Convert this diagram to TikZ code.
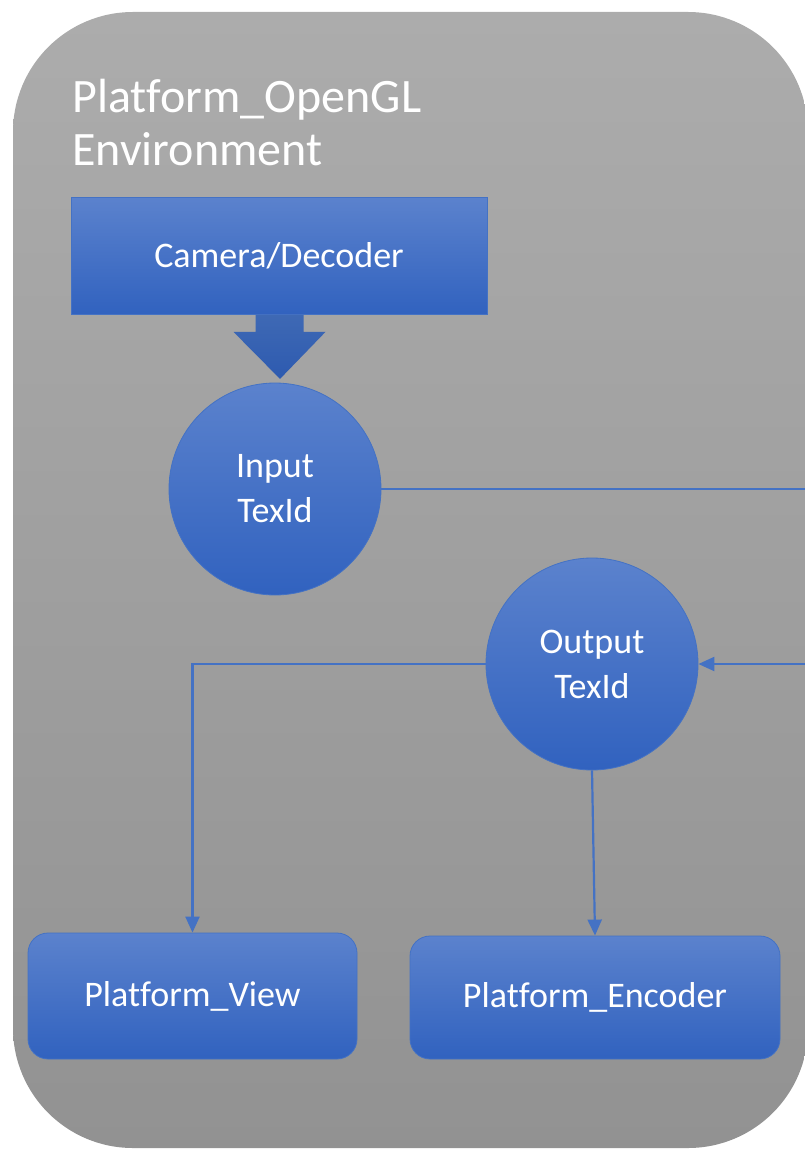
\documentclass[tikz,border=0pt]{standalone}
\usepackage{fontspec}
\setmainfont{Carlito}[Ligatures=NoCommon]
\usetikzlibrary{calc}
\usetikzlibrary{arrows.meta}
\definecolor{topblue}{HTML}{5B82CD}
\definecolor{botblue}{HTML}{3162BF}
\definecolor{edgeblue}{HTML}{4472C4}
\definecolor{topgray}{HTML}{ACACAC}
\definecolor{botgray}{HTML}{929292}

\begin{document}
\begin{tikzpicture}[x=0.5pt, y=-0.5pt,
    main/.style = {draw=edgeblue, line width=0.4pt, top color=topblue, bottom color=botblue, text=white, font=\fontsize{18}{22.5}\selectfont, align=center, inner sep=0pt},
    tex/.style = {main, circle, minimum size=106pt},
    link/.style = {draw=edgeblue, line width=1.1pt, -{Triangle[length=8pt,width=7pt]}}]
    \useasboundingbox (0,0) rectangle (804,1150);
    % environment
    \path[top color=topgray, bottom color=botgray, rounded corners=60pt] (13,12) rectangle (808,1148);
    \node[text=white, font=\fontsize{24}{26.5}\selectfont, align=left, anchor=north west, inner sep=0pt] (env) at (72,79) {Platform\_OpenGL\\Environment};

    \node[main, minimum width=208pt, minimum height=58.5pt] (cam) at (279,256) {Camera/Decoder};
    \node[tex] (in) at (275,489) {Input\\TexId};
    \node[tex] (out) at (592,664) {Output\\TexId};
    \node[main, rounded corners=10pt, minimum width=164.5pt, minimum height=63pt] (view) at (192.5,996) {Platform\_View};
    \node[main, rounded corners=10pt, minimum width=185pt, minimum height=61.5pt] (enc) at (595,997.5) {Platform\_Encoder};
    \coordinate (exit) at (806,489);
    \coordinate (back) at (806,664);

    % block arrow into input
    \path[top color=edgeblue!92!black, bottom color=botblue!92!black] ($(cam.south)+(-23.5,0)$) -- ($(cam.south)+(-23.5,17)$) -- ($(cam.south)+(-45.5,17)$) -- ($(cam.south)+(1,64)$) -- ($(cam.south)+(46.5,17)$) -- ($(cam.south)+(24.5,17)$) -- ($(cam.south)+(24.5,0)$) -- cycle;

    \draw[link, -] (in.east) -- (exit);
    \draw[link] (back) -- (out.east);
    \draw[link] (out.west) -| (view.north);
    \draw[link] (out.south) -- (enc.north);
\end{tikzpicture}
\end{document}
